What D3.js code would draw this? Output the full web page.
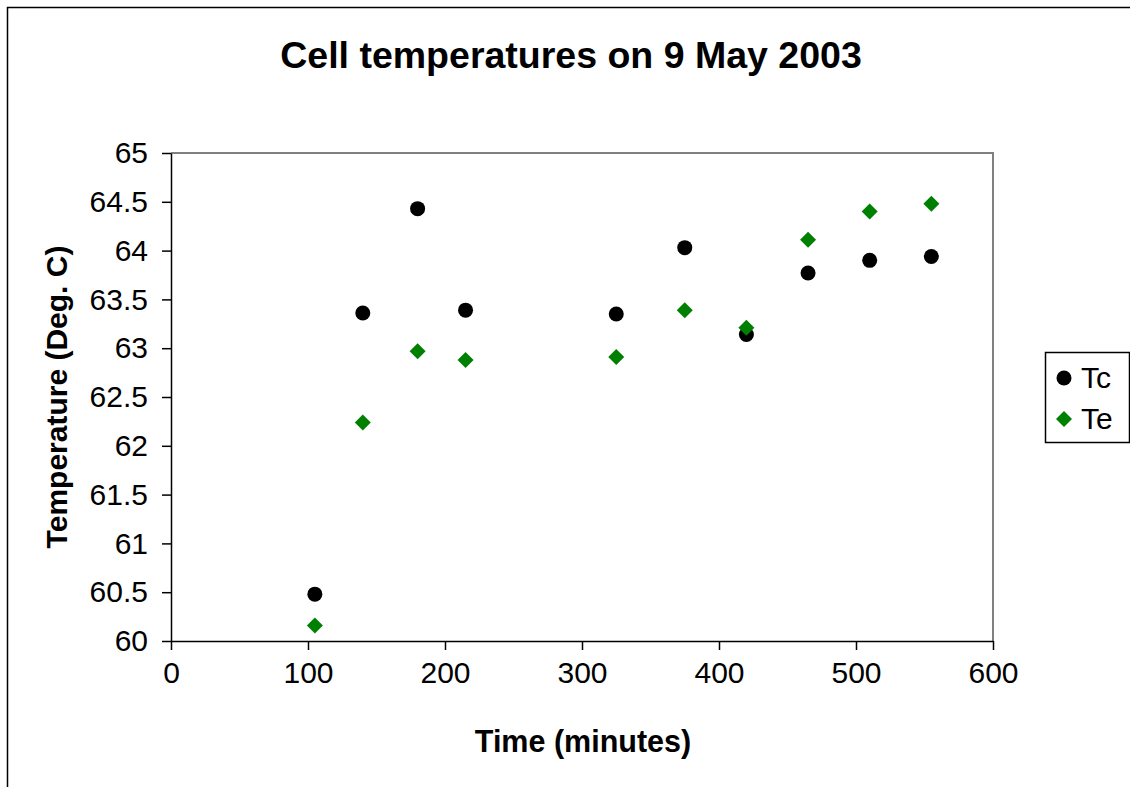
<!DOCTYPE html>
<html>
<head>
<meta charset="utf-8">
<script src="https://cdn.jsdelivr.net/npm/d3@7"></script>
<style>
    body { margin: 0; background: #fff; }
    svg { display: block; font-family: "Liberation Sans", Arial, sans-serif; }
    .axis text { font-size: 30px; fill: #000; }
    .axis path, .axis line { stroke: #000; stroke-width: 1.5; }
</style>
</head>
<body>
<svg id="chart"></svg>
<script>
// minutes since start
var times = [105, 140, 180, 215, 325, 375, 420, 465, 510, 555];
// cell temperatures, Deg. C
var tcValues = [60.48, 63.36, 64.43, 63.39, 63.35, 64.03, 63.14, 63.77, 63.90, 63.94];
var teValues = [60.16, 62.24, 62.97, 62.88, 62.91, 63.39, 63.21, 64.11, 64.40, 64.48];
var xTicks = [0, 100, 200, 300, 400, 500, 600];
var yTicks = [60, 60.5, 61, 61.5, 62, 62.5, 63, 63.5, 64, 64.5, 65];

var w = 1130,
    h = 787;

var margin = {
    top: 153,
    right: 137,
    bottom: 146,
    left: 171
},
    width = w - margin.left - margin.right,
    height = h - margin.top - margin.bottom;

var x = d3.scaleLinear()
    .domain([0, 600])
    .range([0, width]);

var y = d3.scaleLinear()
    .domain([60, 65])
    .range([height, 0]);

var svg = d3.select("#chart")
    .attr("width", w)
    .attr("height", h);

// outer chart border (runs off the right and bottom edges)
svg.append("rect")
    .attr("x", 7.5)
    .attr("y", 7.5)
    .attr("width", w + 10)
    .attr("height", h + 10)
    .attr("fill", "none")
    .attr("stroke", "#000")
    .attr("stroke-width", 1.5);

svg.append("text")
    .attr("x", 571)
    .attr("y", 68)
    .attr("text-anchor", "middle")
    .style("font-size", "37.5px")
    .style("font-weight", "bold")
    .text("Cell temperatures on 9 May 2003");

var g = svg.append("g")
    .attr("transform", "translate(" + margin.left + "," + margin.top + ")");

// plot area frame, grey on top and right
g.append("path")
    .attr("d", "M0,0H" + width + "V" + height)
    .attr("fill", "none")
    .attr("stroke", "#808080")
    .attr("stroke-width", 2);

g.append("g")
    .attr("class", "axis x-axis")
    .attr("transform", "translate(0," + height + ")")
    .call(d3.axisBottom(x).tickValues(xTicks).tickSize(9).tickPadding(12).tickSizeOuter(0));

g.append("g")
    .attr("class", "axis y-axis")
    .call(d3.axisLeft(y).tickValues(yTicks).tickFormat(d3.format("")).tickSize(9).tickPadding(14).tickSizeOuter(0));

g.selectAll(".tick text").attr("font-family", null).attr("font-size", null);

// axis titles
svg.append("text")
    .attr("x", 583)
    .attr("y", 752)
    .attr("text-anchor", "middle")
    .style("font-size", "30.5px")
    .style("font-weight", "bold")
    .text("Time (minutes)");

svg.append("text")
    .attr("transform", "translate(67,397) rotate(-90)")
    .attr("text-anchor", "middle")
    .style("font-size", "30px")
    .style("font-weight", "bold")
    .text("Temperature (Deg. C)");

// Tc circles, then Te diamonds drawn on top
g.selectAll(".tc")
    .data(times)
    .enter()
    .append("circle")
    .attr("class", "tc")
    .attr("cx", function(d) { return x(d); })
    .attr("cy", function(d, i) { return y(tcValues[i]); })
    .attr("r", 7.5)
    .attr("fill", "#000");

var diamond = d3.symbol().type(d3.symbolSquare).size(128);

g.selectAll(".te")
    .data(times)
    .enter()
    .append("path")
    .attr("class", "te")
    .attr("d", diamond)
    .attr("transform", function(d, i) {
        return "translate(" + x(d) + "," + y(teValues[i]) + ") rotate(45)";
    })
    .attr("fill", "#008000");

// legend
var legend = svg.append("g")
    .attr("transform", "translate(1045,352)");

legend.append("rect")
    .attr("x", 0.5)
    .attr("y", 0.5)
    .attr("width", 84)
    .attr("height", 90)
    .attr("fill", "#fff")
    .attr("stroke", "#000")
    .attr("stroke-width", 1.5);

legend.append("circle")
    .attr("cx", 19)
    .attr("cy", 26)
    .attr("r", 7.5)
    .attr("fill", "#000");

legend.append("path")
    .attr("d", diamond)
    .attr("transform", "translate(19,67) rotate(45)")
    .attr("fill", "#008000");

legend.append("text")
    .attr("x", 36)
    .attr("y", 36)
    .style("font-size", "30px")
    .text("Tc");

legend.append("text")
    .attr("x", 36)
    .attr("y", 77)
    .style("font-size", "30px")
    .text("Te");
</script>
</body>
</html>
